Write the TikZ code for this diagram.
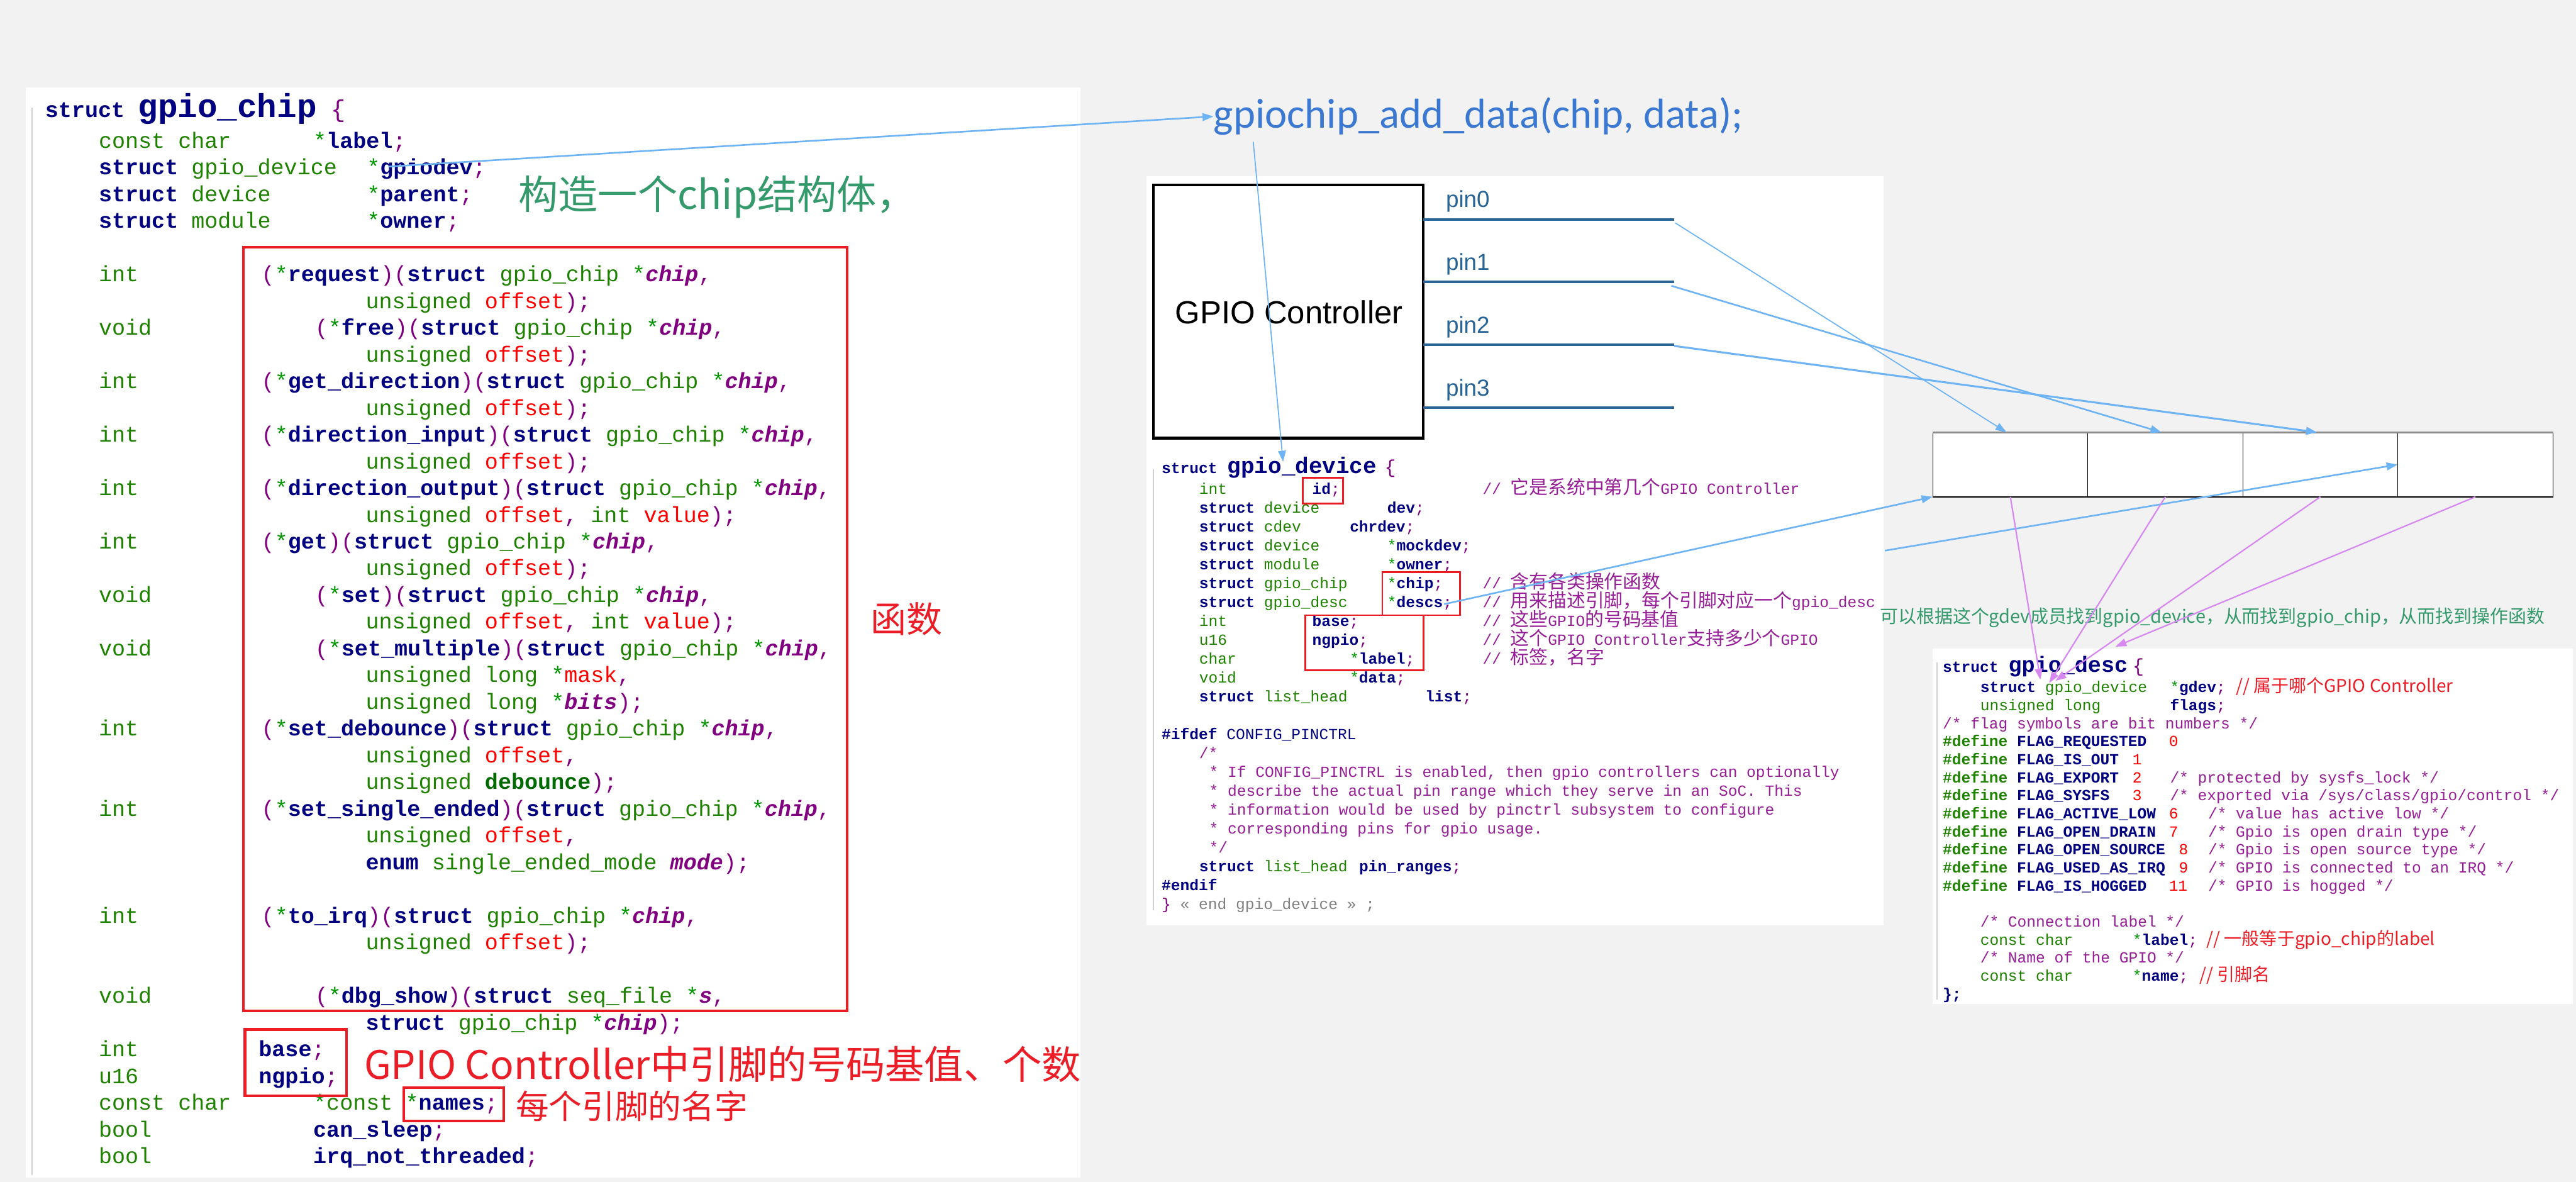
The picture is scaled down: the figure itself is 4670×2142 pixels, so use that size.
\documentclass[tikz,border=0pt]{standalone}
\usepackage{fontspec}
\setmonofont{Liberation Mono}
\newfontfamily\cjk{Noto Sans CJK SC}
\newfontfamily\calfont{Carlito}
\newfontfamily\arfont{Liberation Sans}
\usetikzlibrary{arrows.meta}
\definecolor{bgc}{RGB}{242,242,242}
\definecolor{navy}{RGB}{0,0,128}
\definecolor{tgreen}{RGB}{30,130,0}
\definecolor{sgreen}{RGB}{0,150,0}
\definecolor{dgreen}{RGB}{0,105,0}
\definecolor{ppl}{RGB}{128,0,128}
\definecolor{cmt}{RGB}{150,30,150}
\definecolor{codered}{RGB}{255,0,0}
\definecolor{boxred}{RGB}{235,28,36}
\definecolor{annred}{RGB}{235,30,40}
\definecolor{anngreen}{RGB}{52,153,107}
\definecolor{lblue}{RGB}{110,180,245}
\definecolor{addblue}{RGB}{58,120,210}
\definecolor{pinblue}{RGB}{40,100,150}
\definecolor{vio}{RGB}{215,135,240}
\newcommand\Kw[1]{{\color{navy}\bfseries #1}}
\newcommand\Ty[1]{{\color{tgreen}#1}}
\newcommand\Pa[1]{{\color{ppl}#1}}
\newcommand\Ar[1]{{\color{codered}#1}}
\newcommand\Ip[1]{{\color{ppl}\bfseries\itshape #1}}
\newcommand\St{{\color{sgreen}*}}
\newcommand\Sc{{\color{ppl};}}
\newcommand\Cm[1]{{\color{cmt}#1}}
\newcommand\Dg[1]{{\color{dgreen}\bfseries #1}}
\newcommand\Dfn{{\color{tgreen}\bfseries\#define}}
\newcommand\Fptr[1]{\Pa{(}\St\Kw{#1}\Pa{)(}\Kw{struct} \Ty{gpio\_chip} \St\Ip{chip}\Pa{,}}
\newcommand\Uoff{\Ty{unsigned} \Ar{offset}\Pa{);}}
\newcommand\cjkm{\cjk\fontsize{34}{34}\selectfont}
\tikzset{
  codeL/.style={anchor=base west, inner sep=0pt, outer sep=0pt, font=\ttfamily\fontsize{40}{48}\selectfont},
  codeM/.style={anchor=base west, inner sep=0pt, outer sep=0pt, font=\ttfamily\fontsize{28}{34}\selectfont},
  rbox/.style={draw=boxred, line width=5pt},
  rboxs/.style={draw=boxred, line width=3pt},
  cellbox/.style={draw=black, line width=1pt, fill=white, minimum width=281pt, minimum height=116pt, inner sep=0pt},
  lba/.style={draw=lblue, line width=2.5pt, -{Triangle[length=20pt,width=14pt]}},
  vioa/.style={draw=vio, line width=2.5pt, -{Triangle[length=20pt,width=14pt]}},
  pinline/.style={draw=pinblue, line width=4pt},
  pinlab/.style={anchor=west, inner sep=0pt, text=pinblue, font=\arfont\fontsize{42}{42}\selectfont},
  codeborder/.style={draw=black!18, line width=2pt},
}
\newcommand\LA[4]{\node[codeL] (#1) at (#2,{268+48.45*(#3)}) {#4};}
\newcommand\MA[4]{\node[codeM] (#1) at (#2,{896+34.2*(#3)}) {#4};}
\newcommand\DA[4]{\node[codeM] (#1) at (#2,{1255+32.7*(#3)}) {#4};}
\begin{document}
\begin{tikzpicture}[x=1pt,y=-1pt]
\useasboundingbox (0,0) rectangle (4670,2142);
\fill[bgc] (0,0) rectangle (4670,2142);
% panels
\fill[white] (47,158) rectangle (1959,2134);
\fill[white] (2078,319) rectangle (3415,1677);
\fill[white] (3504,1175) rectangle (4664,1820);
\draw[codeborder] (58,195) -- (58,2130);
\draw[codeborder] (2091,850) -- (2091,1650);
\draw[codeborder] (3512,1200) -- (3512,1812);

% ===== struct gpio_chip =====
\node[codeL] (ct1) at (82,213) {\Kw{struct}};
\node[anchor=base west, inner sep=0pt, font=\ttfamily\bfseries\fontsize{60}{60}\selectfont, text=navy] (ct2) at (250,213) {gpio\_chip};
\node[anchor=base west, inner sep=0pt, font=\ttfamily\fontsize{44}{44}\selectfont, text=ppl] (ct3) at (600,213) {\{};
\LA{a0}{179}{0}{\Ty{const char}}
\LA{a0b}{568}{0}{\St\Kw{label}\Sc}
\LA{a1}{179}{1}{\Kw{struct} \Ty{gpio\_device}}
\LA{a1b}{665}{1}{\St\Kw{gpiodev}\Sc}
\LA{a2}{179}{2}{\Kw{struct} \Ty{device}}
\LA{a2b}{665}{2}{\St\Kw{parent}\Sc}
\LA{a3}{179}{3}{\Kw{struct} \Ty{module}}
\LA{a3b}{665}{3}{\St\Kw{owner}\Sc}
\LA{a5}{179}{5}{\Ty{int}}
\LA{a5b}{474}{5}{\Fptr{request}}
\LA{a6}{663}{6}{\Uoff}
\LA{a7}{179}{7}{\Ty{void}}
\LA{a7b}{571}{7}{\Fptr{free}}
\LA{a8}{663}{8}{\Uoff}
\LA{a9}{179}{9}{\Ty{int}}
\LA{a9b}{474}{9}{\Fptr{get\_direction}}
\LA{a10}{663}{10}{\Uoff}
\LA{a11}{179}{11}{\Ty{int}}
\LA{a11b}{474}{11}{\Fptr{direction\_input}}
\LA{a12}{663}{12}{\Uoff}
\LA{a13}{179}{13}{\Ty{int}}
\LA{a13b}{474}{13}{\Fptr{direction\_output}}
\LA{a14}{663}{14}{\Ty{unsigned} \Ar{offset}\Pa{,} \Ty{int} \Ar{value}\Pa{);}}
\LA{a15}{179}{15}{\Ty{int}}
\LA{a15b}{474}{15}{\Fptr{get}}
\LA{a16}{663}{16}{\Uoff}
\LA{a17}{179}{17}{\Ty{void}}
\LA{a17b}{571}{17}{\Fptr{set}}
\LA{a18}{663}{18}{\Ty{unsigned} \Ar{offset}\Pa{,} \Ty{int} \Ar{value}\Pa{);}}
\LA{a19}{179}{19}{\Ty{void}}
\LA{a19b}{571}{19}{\Fptr{set\_multiple}}
\LA{a20}{663}{20}{\Ty{unsigned long} \St\Ar{mask}\Pa{,}}
\LA{a21}{663}{21}{\Ty{unsigned long} \St\Ip{bits}\Pa{);}}
\LA{a22}{179}{22}{\Ty{int}}
\LA{a22b}{474}{22}{\Fptr{set\_debounce}}
\LA{a23}{663}{23}{\Ty{unsigned} \Ar{offset}\Pa{,}}
\LA{a24}{663}{24}{\Ty{unsigned} \Dg{debounce}\Pa{);}}
\LA{a25}{179}{25}{\Ty{int}}
\LA{a25b}{474}{25}{\Fptr{set\_single\_ended}}
\LA{a26}{663}{26}{\Ty{unsigned} \Ar{offset}\Pa{,}}
\LA{a27}{663}{27}{\Kw{enum} \Ty{single\_ended\_mode} \Ip{mode}\Pa{);}}
\LA{a29}{179}{29}{\Ty{int}}
\LA{a29b}{474}{29}{\Fptr{to\_irq}}
\LA{a30}{663}{30}{\Uoff}
\LA{a32}{179}{32}{\Ty{void}}
\LA{a32b}{571}{32}{\Pa{(}\St\Kw{dbg\_show}\Pa{)(}\Kw{struct} \Ty{seq\_file} \St\Ip{s}\Pa{,}}
\LA{a33}{663}{33}{\Kw{struct} \Ty{gpio\_chip} \St\Ip{chip}\Pa{);}}
\LA{a34}{179}{34}{\Ty{int}}
\LA{a34b}{469}{34}{\Kw{base}\Sc}
\LA{a35}{179}{35}{\Ty{u16}}
\LA{a35b}{469}{35}{\Kw{ngpio}\Sc}
\LA{a36}{179}{36}{\Ty{const char}}
\LA{a36b}{568}{36}{\St\Ty{const}}
\LA{a36c}{735}{36}{\St\Kw{names}\Sc}
\LA{a37}{179}{37}{\Ty{bool}}
\LA{a37b}{568}{37}{\Kw{can\_sleep}\Sc}
\LA{a38}{179}{38}{\Ty{bool}}
\LA{a38b}{568}{38}{\Kw{irq\_not\_threaded}\Sc}
% red boxes left
\draw[rbox] (441,448) rectangle (1536,1832);
\draw[rbox] (444,1866) rectangle (628,1986);
\draw[rbox] (732,1971) rectangle (913,2032);
% left annotations
\node[anchor=west, inner sep=0pt, text=anngreen, font=\cjk\fontsize{72}{72}\selectfont] (ann1) at (940,357) {构造一个chip结构体，};
\node[inner sep=0pt, text=annred, font=\cjk\fontsize{65}{65}\selectfont] (ann2) at (1643,1122) {函数};
\node[anchor=west, inner sep=0pt, text=annred, font=\cjk\fontsize{71}{71}\selectfont] (ann3) at (660,1929) {GPIO Controller中引脚的号码基值、个数};
\node[anchor=west, inner sep=0pt, text=annred, font=\cjk\fontsize{60}{60}\selectfont] (ann4) at (935,2005) {每个引脚的名字};

% ===== middle: GPIO controller =====
\node[anchor=west, inner sep=0pt, text=addblue, font=\calfont\fontsize{76}{76}\selectfont] (gad) at (2200,211) {gpiochip\_add\_data(chip, data);};
\node[draw=black, line width=5pt, fill=white, minimum width=489pt, minimum height=459pt, inner sep=0pt] (gc) at (2335.5,564.5) {};
\node[inner sep=0pt, font=\arfont\fontsize{58}{58}\selectfont] (gct) at (2337,566) {GPIO Controller};
\coordinate (p0s) at (2580,398); \coordinate (p0e) at (3035,398);
\coordinate (p1s) at (2580,511); \coordinate (p1e) at (3035,511);
\coordinate (p2s) at (2580,625); \coordinate (p2e) at (3035,625);
\coordinate (p3s) at (2580,739); \coordinate (p3e) at (3035,739);
\draw[pinline] (p0s) -- (p0e);
\draw[pinline] (p1s) -- (p1e);
\draw[pinline] (p2s) -- (p2e);
\draw[pinline] (p3s) -- (p3e);
\node[pinlab] (pl0) at (2621,365) {pin0};
\node[pinlab] (pl1) at (2621,479) {pin1};
\node[pinlab] (pl2) at (2621,593) {pin2};
\node[pinlab] (pl3) at (2621,707) {pin3};

% ===== struct gpio_device =====
\node[codeM] (dt1) at (2106,858) {\Kw{struct}};
\node[anchor=base west, inner sep=0pt, font=\ttfamily\bfseries\fontsize{41}{41}\selectfont, text=navy] (dt2) at (2225,858) {gpio\_device};
\node[anchor=base west, inner sep=0pt, font=\ttfamily\fontsize{34}{34}\selectfont, text=ppl] (dt3) at (2510,858) {\{};
\MA{b0}{2174}{0}{\Ty{int}}
\MA{b0b}{2379}{0}{\Kw{id}\Sc}
\MA{b0c}{2688}{0}{\Cm{// {\cjkm 它是系统中第几个}GPIO Controller}}
\MA{b1}{2174}{1}{\Kw{struct} \Ty{device}}
\MA{b1b}{2515}{1}{\Kw{dev}\Sc}
\MA{b2}{2174}{2}{\Kw{struct} \Ty{cdev}}
\MA{b2b}{2447}{2}{\Kw{chrdev}\Sc}
\MA{b3}{2174}{3}{\Kw{struct} \Ty{device}}
\MA{b3b}{2515}{3}{\St\Kw{mockdev}\Sc}
\MA{b4}{2174}{4}{\Kw{struct} \Ty{module}}
\MA{b4b}{2515}{4}{\St\Kw{owner}\Sc}
\MA{b5}{2174}{5}{\Kw{struct} \Ty{gpio\_chip}}
\MA{b5b}{2515}{5}{\St\Kw{chip}\Sc}
\MA{b5c}{2688}{5}{\Cm{// {\cjkm 含有各类操作函数}}}
\MA{b6}{2174}{6}{\Kw{struct} \Ty{gpio\_desc}}
\MA{b6b}{2515}{6}{\St\Kw{descs}\Sc}
\MA{b6c}{2688}{6}{\Cm{// {\cjkm 用来描述引脚，每个引脚对应一个}gpio\_desc}}
\MA{b7}{2174}{7}{\Ty{int}}
\MA{b7b}{2379}{7}{\Kw{base}\Sc}
\MA{b7c}{2688}{7}{\Cm{// {\cjkm 这些}GPIO{\cjkm 的号码基值}}}
\MA{b8}{2174}{8}{\Ty{u16}}
\MA{b8b}{2379}{8}{\Kw{ngpio}\Sc}
\MA{b8c}{2688}{8}{\Cm{// {\cjkm 这个}GPIO Controller{\cjkm 支持多少个}GPIO}}
\MA{b9}{2174}{9}{\Ty{char}}
\MA{b9b}{2447}{9}{\St\Kw{label}\Sc}
\MA{b9c}{2688}{9}{\Cm{// {\cjkm 标签，名字}}}
\MA{b10}{2174}{10}{\Ty{void}}
\MA{b10b}{2447}{10}{\St\Kw{data}\Sc}
\MA{b11}{2174}{11}{\Kw{struct} \Ty{list\_head}}
\MA{b11b}{2584}{11}{\Kw{list}\Sc}
\MA{b13}{2106}{13}{\Kw{\#ifdef} {\color{navy}CONFIG\_PINCTRL}}
\MA{b14}{2174}{14}{\Cm{/*}}
\MA{b15}{2192}{15}{\Cm{* If CONFIG\_PINCTRL is enabled, then gpio controllers can optionally}}
\MA{b16}{2192}{16}{\Cm{* describe the actual pin range which they serve in an SoC. This}}
\MA{b17}{2192}{17}{\Cm{* information would be used by pinctrl subsystem to configure}}
\MA{b18}{2192}{18}{\Cm{* corresponding pins for gpio usage.}}
\MA{b19}{2192}{19}{\Cm{*/}}
\MA{b20}{2174}{20}{\Kw{struct} \Ty{list\_head}}
\MA{b20b}{2464}{20}{\Kw{pin\_ranges}\Sc}
\MA{b21}{2106}{21}{\Kw{\#endif}}
\MA{b22}{2106}{22}{\Pa{\}} {\color{black!50}« end gpio\_device » ;}}
\draw[rboxs] (2362,866) rectangle (2435,913);
\draw[rboxs] (2506,1037) rectangle (2647,1115);
\draw[rboxs] (2366,1115) rectangle (2581,1215);

% ===== pin descriptor array =====
\node[cellbox] (c1) at (3644.5,842) {};
\node[cellbox] (c2) at (3925.5,842) {};
\node[cellbox] (c3) at (4206.5,842) {};
\node[cellbox] (c4) at (4487.5,842) {};
\draw[draw=black!45, line width=3pt] (c1.north west) -- (c4.north east);
\draw[draw=black, line width=2pt] (c1.south west) -- (c4.south east);

\node[anchor=west, inner sep=0pt, text=anngreen, font=\cjk\fontsize{33}{33}\selectfont] (ann5) at (3408,1120) {可以根据这个gdev成员找到gpio\_device，从而找到gpio\_chip，从而找到操作函数};

% ===== struct gpio_desc =====
\node[codeM] (et1) at (3522,1218) {\Kw{struct}};
\node[anchor=base west, inner sep=0pt, font=\ttfamily\bfseries\fontsize{40}{40}\selectfont, text=navy] (et2) at (3641,1218) {gpio\_desc};
\node[anchor=base west, inner sep=0pt, font=\ttfamily\fontsize{34}{34}\selectfont, text=ppl] (et3) at (3866,1218) {\{};
\DA{e0}{3590}{0}{\Kw{struct} \Ty{gpio\_device}}
\DA{e0b}{3934}{0}{\St\Kw{gdev}\Sc}
\node[anchor=base west, inner sep=0pt, text=annred, font=\cjk\fontsize{32}{32}\selectfont] (e0c) at (4053,1255) {// 属于哪个GPIO Controller};
\DA{e1}{3590}{1}{\Ty{unsigned long}}
\DA{e1b}{3934}{1}{\Kw{flags}\Sc}
\DA{e2}{3522}{2}{\Cm{/* flag symbols are bit numbers */}}
\DA{e3}{3522}{3}{\Dfn{} \Kw{FLAG\_REQUESTED}}
\DA{e3b}{3932}{3}{\Ar{0}}
\DA{e4}{3522}{4}{\Dfn{} \Kw{FLAG\_IS\_OUT}}
\DA{e4b}{3866}{4}{\Ar{1}}
\DA{e5}{3522}{5}{\Dfn{} \Kw{FLAG\_EXPORT}}
\DA{e5b}{3866}{5}{\Ar{2}}
\DA{e5c}{3934}{5}{\Cm{/* protected by sysfs\_lock */}}
\DA{e6}{3522}{6}{\Dfn{} \Kw{FLAG\_SYSFS}}
\DA{e6b}{3866}{6}{\Ar{3}}
\DA{e6c}{3934}{6}{\Cm{/* exported via /sys/class/gpio/control */}}
\DA{e7}{3522}{7}{\Dfn{} \Kw{FLAG\_ACTIVE\_LOW}}
\DA{e7b}{3932}{7}{\Ar{6}}
\DA{e7c}{4003}{7}{\Cm{/* value has active low */}}
\DA{e8}{3522}{8}{\Dfn{} \Kw{FLAG\_OPEN\_DRAIN}}
\DA{e8b}{3932}{8}{\Ar{7}}
\DA{e8c}{4003}{8}{\Cm{/* Gpio is open drain type */}}
\DA{e9}{3522}{9}{\Dfn{} \Kw{FLAG\_OPEN\_SOURCE}}
\DA{e9b}{3950}{9}{\Ar{8}}
\DA{e9c}{4003}{9}{\Cm{/* Gpio is open source type */}}
\DA{e10}{3522}{10}{\Dfn{} \Kw{FLAG\_USED\_AS\_IRQ}}
\DA{e10b}{3950}{10}{\Ar{9}}
\DA{e10c}{4003}{10}{\Cm{/* GPIO is connected to an IRQ */}}
\DA{e11}{3522}{11}{\Dfn{} \Kw{FLAG\_IS\_HOGGED}}
\DA{e11b}{3932}{11}{\Ar{11}}
\DA{e11c}{4003}{11}{\Cm{/* GPIO is hogged */}}
\DA{e13}{3590}{13}{\Cm{/* Connection label */}}
\DA{e14}{3590}{14}{\Ty{const char}}
\DA{e14b}{3866}{14}{\St\Kw{label}\Sc}
\node[anchor=base west, inner sep=0pt, text=annred, font=\cjk\fontsize{32}{32}\selectfont] (e14c) at (4000,{1255+32.7*14}) {// 一般等于gpio\_chip的label};
\DA{e15}{3590}{15}{\Cm{/* Name of the GPIO */}}
\DA{e16}{3590}{16}{\Ty{const char}}
\DA{e16b}{3866}{16}{\St\Kw{name}\Sc}
\node[anchor=base west, inner sep=0pt, text=annred, font=\cjk\fontsize{32}{32}\selectfont] (e16c) at (3987,{1255+32.7*16}) {// 引脚名};
\DA{e17}{3522}{17}{\Kw{\};}}

% ===== connectors =====
\coordinate (gpiodevpt) at (704,302);
\draw[lba, line width=3pt] (gpiodevpt) -- (gad.west);
\coordinate (gadbot) at (2272,257);
\coordinate (devtop) at (2326,837);
\draw[lba, line width=2pt] (gadbot) -- (devtop);
\coordinate (p0a) at (3037,404);
\coordinate (p1a) at (3030,518);
\coordinate (p2a) at (3035,627);
\draw[lba, line width=2pt] (p0a) -- ([xshift=-7pt]c1.north);
\draw[lba, line width=3pt] (p1a) -- ([xshift=-7pt]c2.north);
\draw[lba, line width=3.5pt] (p2a) -- ([xshift=-6pt]c3.north);
\coordinate (descspt) at (2618,1095);
\draw[lba, line width=3pt] (descspt) -- (c1.south west);
\coordinate (paneledge) at (3417,998);
\draw[lba, line width=3pt] (paneledge) -- (c4.west);
\coordinate (t1) at (3699,1232);
\coordinate (t2) at (3715,1238);
\coordinate (t3) at (3726,1234);
\coordinate (t4) at (3835,1172);
\draw[vioa] (c1.south) -- (t1);
\draw[vioa] (c2.south) -- (t2);
\draw[vioa] (c3.south) -- (t3);
\draw[vioa] (c4.south) -- (t4);
\end{tikzpicture}
\end{document}
